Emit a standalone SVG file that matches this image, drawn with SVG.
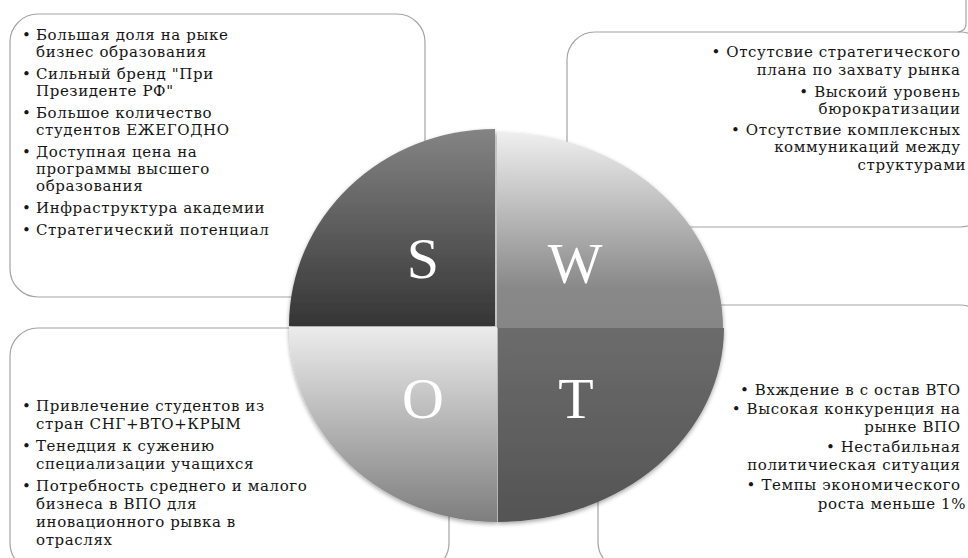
<svg xmlns="http://www.w3.org/2000/svg" width="968" height="558" viewBox="0 0 968 558">
  <defs>
    <style>
      .box { fill: #ffffff; stroke: #a4a4a4; stroke-width: 1.2; }
      .edge { fill: none; stroke: #a4a4a4; stroke-width: 1.2; }
      .t { font-family: "DejaVu Serif", "Liberation Serif", serif; font-size: 15px; letter-spacing: 0.6px; fill: #161616; }
      .r { text-anchor: end; }
      .letter { font-family: "Liberation Serif", "DejaVu Serif", serif; font-size: 58px; fill: #ffffff; text-anchor: middle; }
    </style>
    <linearGradient id="gS" x1="0" y1="0" x2="0" y2="1">
      <stop offset="0" stop-color="#848484"/>
      <stop offset="1" stop-color="#353535"/>
    </linearGradient>
    <linearGradient id="gW" x1="0" y1="0" x2="0" y2="1">
      <stop offset="0" stop-color="#efefef"/>
      <stop offset="0.8" stop-color="#888888"/>
      <stop offset="1" stop-color="#868686"/>
    </linearGradient>
    <linearGradient id="gO" x1="0" y1="0" x2="0" y2="1">
      <stop offset="0" stop-color="#ececec"/>
      <stop offset="1" stop-color="#7e7e7e"/>
    </linearGradient>
    <linearGradient id="gT" x1="0" y1="0" x2="0" y2="1">
      <stop offset="0" stop-color="#6c6c6c"/>
      <stop offset="1" stop-color="#545454"/>
    </linearGradient>
    <filter id="soft" x="-10%" y="-10%" width="120%" height="120%">
      <feDropShadow dx="0" dy="2" stdDeviation="2" flood-color="#000" flood-opacity="0.35"/>
    </filter>
  </defs>

  <rect width="968" height="558" fill="#ffffff"/>

  <!-- Strengths -->
  <g id="box-s">
    <rect class="box" x="10" y="14" width="415" height="283" rx="28" ry="28"/>
    <text class="t">
      <tspan x="22" y="40">•</tspan><tspan x="36" y="40">Большая доля на рыке</tspan>
      <tspan x="36" y="57">бизнес образования</tspan>
      <tspan x="22" y="79">•</tspan><tspan x="36" y="79">Сильный бренд "При</tspan>
      <tspan x="36" y="96">Президенте РФ"</tspan>
      <tspan x="22" y="118">•</tspan><tspan x="36" y="118">Большое количество</tspan>
      <tspan x="36" y="135">студентов ЕЖЕГОДНО</tspan>
      <tspan x="22" y="157">•</tspan><tspan x="36" y="157">Доступная цена на</tspan>
      <tspan x="36" y="174">программы высшего</tspan>
      <tspan x="36" y="191">образования</tspan>
      <tspan x="22" y="213">•</tspan><tspan x="36" y="213">Инфраструктура академии</tspan>
      <tspan x="22" y="235">•</tspan><tspan x="36" y="235">Стратегический потенциал</tspan>
    </text>
  </g>

  <!-- Weaknesses -->
  <g id="box-w">
    <rect class="box" x="567" y="32" width="421" height="195" rx="28" ry="28"/>
    <path class="edge" d="M958,32 Q966,31 966,24 L966,0"/>
    <text class="t r">
      <tspan x="966" y="57">• Отсутсвие стратегического</tspan>
      <tspan x="966" y="75">плана по захвату рынка</tspan>
      <tspan x="966" y="97">• Выскоий уровень</tspan>
      <tspan x="966" y="114">бюрократизации</tspan>
      <tspan x="966" y="135">• Отсутствие комплексных</tspan>
      <tspan x="966" y="152">коммуникаций между</tspan>
      <tspan x="966" y="170">структурами</tspan>
    </text>
  </g>

  <!-- Opportunities -->
  <g id="box-o">
    <rect class="box" x="10" y="328" width="439" height="243" rx="28" ry="28"/>
    <text class="t">
      <tspan x="22" y="411">•</tspan><tspan x="36" y="411">Привлечение студентов из</tspan>
      <tspan x="36" y="429">стран СНГ+ВТО+КРЫМ</tspan>
      <tspan x="22" y="451">•</tspan><tspan x="36" y="451">Тенедция к сужению</tspan>
      <tspan x="36" y="469">специализации учащихся</tspan>
      <tspan x="22" y="491">•</tspan><tspan x="36" y="491">Потребность среднего и малого</tspan>
      <tspan x="36" y="509">бизнеса в ВПО для</tspan>
      <tspan x="36" y="527">иновационного рывка в</tspan>
      <tspan x="36" y="545">отраслях</tspan>
    </text>
  </g>

  <!-- Threats -->
  <g id="box-t">
    <rect class="box" x="598" y="305" width="390" height="265" rx="28" ry="28"/>
    <text class="t r">
      <tspan x="966" y="395">• Вхждение в с остав ВТО</tspan>
      <tspan x="966" y="414">• Высокая конкуренция на</tspan>
      <tspan x="966" y="432">рынке  ВПО</tspan>
      <tspan x="966" y="452">• Нестабильная</tspan>
      <tspan x="966" y="470">политичиеская ситуация</tspan>
      <tspan x="966" y="490">• Темпы экономического</tspan>
      <tspan x="966" y="509">роста  меньше 1%</tspan>
    </text>
  </g>

  <!-- SWOT wheel: four quarter sectors -->
  <g id="wheel" filter="url(#soft)">
    <g id="quad-s">
      <path d="M495,326 L289,326 A206,197 0 0 1 495,129 Z" fill="url(#gS)"/>
      <text class="letter" x="423" y="278">S</text>
    </g>
    <g id="quad-w">
      <path d="M497,328 L497,132 A226,196 0 0 1 723,328 Z" fill="url(#gW)"/>
      <text class="letter" x="575" y="283">W</text>
    </g>
    <g id="quad-o">
      <path d="M497,327 L497,522 A208,195 0 0 1 289,327 Z" fill="url(#gO)"/>
      <text class="letter" x="423" y="418">O</text>
    </g>
    <g id="quad-t">
      <path d="M498,328 L724,328 A226,194 0 0 1 498,522 Z" fill="url(#gT)"/>
      <text class="letter" x="576" y="418">T</text>
    </g>
  </g>
</svg>
